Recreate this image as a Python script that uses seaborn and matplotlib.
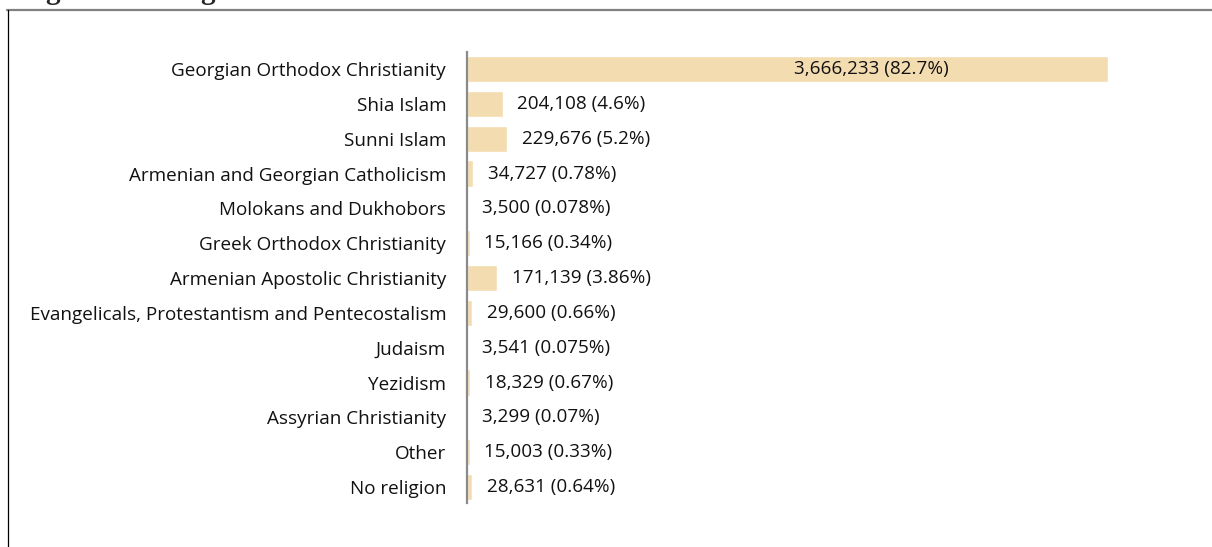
import matplotlib
matplotlib.use("Agg")
import matplotlib.pyplot as plt
import seaborn as sns
import pandas as pd
from matplotlib.lines import Line2D

religions = [
    "Georgian Orthodox Christianity",
    "Shia Islam",
    "Sunni Islam",
    "Armenian and Georgian Catholicism",
    "Molokans and Dukhobors",
    "Greek Orthodox Christianity",
    "Armenian Apostolic Christianity",
    "Evangelicals, Protestantism and Pentecostalism",
    "Judaism",
    "Yezidism",
    "Assyrian Christianity",
    "Other",
    "No religion",
]
followers = [3666233, 204108, 229676, 34727, 3500, 15166, 171139,
             29600, 3541, 18329, 3299, 15003, 28631]
shares = ["82.7%", "4.6%", "5.2%", "0.78%", "0.078%", "0.34%", "3.86%",
          "0.66%", "0.075%", "0.67%", "0.07%", "0.33%", "0.64%"]

df = pd.DataFrame({"religion": religions, "followers": followers, "share": shares})

sns.set_theme(style="white")
plt.rcParams["font.family"] = ["Open Sans", "DejaVu Sans"]

W, H = 1212, 547
fig = plt.figure(figsize=(W / 100, H / 100), dpi=100)
ax = fig.add_axes([467 / W, 44 / H, 682 / W, 451 / H])

sns.barplot(data=df, y="religion", x="followers", color="#F3DCB0",
            saturation=1, width=0.75, orient="h", ax=ax)

fs = 13.6
ax.set_xlim(0, 3.9e6)
ax.set_ylim(12.46, -0.49)
ax.set_xlabel("")
ax.set_ylabel("")
ax.set_xticks([])
ax.tick_params(axis="y", length=0, pad=15, labelsize=fs, labelcolor="#111111")
for s in ["top", "right", "bottom"]:
    ax.spines[s].set_visible(False)
ax.spines["left"].set_color("#8a8a8a")
ax.spines["left"].set_linewidth(1.6)

biggest = max(followers)
for i, (v, p) in enumerate(zip(followers, shares)):
    label = f"{v:,} ({p})"
    if v == biggest:
        ax.text(v * 0.63, i, label, ha="center", va="center",
                fontsize=fs, color="#111111")
    else:
        ax.annotate(label, (v, i), xytext=(10.5, 0), textcoords="offset points",
                    ha="left", va="center", fontsize=fs, color="#111111")

# partial frame around the figure
fig.add_artist(Line2D([7 / W, 1], [1 - 10 / H, 1 - 10 / H], color="#808080",
                      linewidth=1.6, transform=fig.transFigure))
fig.add_artist(Line2D([7.5 / W, 7.5 / W], [0, 1 - 10 / H], color="black",
                      linewidth=0.9, transform=fig.transFigure))

# title cut off at the top edge, only descenders visible
fig.text(-4 / W, 1 + 1 / H, "Religion in Georgia", ha="left", va="baseline",
         fontsize=21, fontweight="bold", family=["Liberation Serif"])

fig.savefig("out.png", dpi=100)
